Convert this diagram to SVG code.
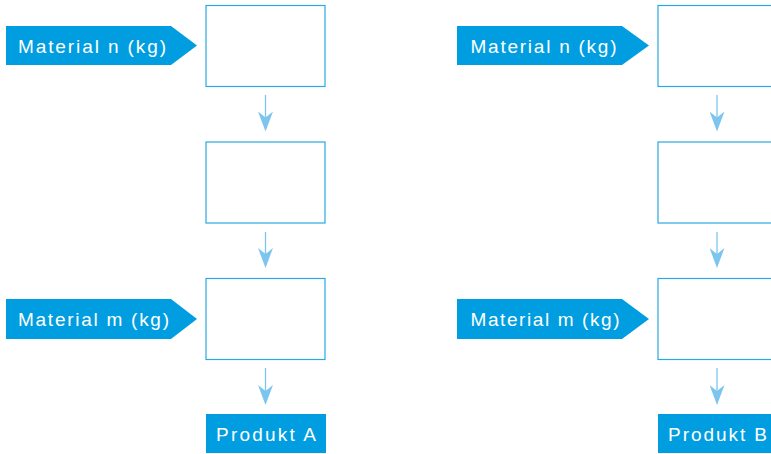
<svg xmlns="http://www.w3.org/2000/svg" width="771" height="454" viewBox="0 0 771 454">
<style>
.tag{fill:#009ee0}
.box{fill:#fff;stroke:#29a9e1;stroke-width:1.2}
.lbl{fill:#fff;font-family:"Liberation Sans",Arial,sans-serif;font-size:19px}
.conn{stroke:#7cc5ef;stroke-width:1.3;fill:none;marker-end:url(#ah)}
</style>
<defs>
<marker id="ah" viewBox="0 -7.5 20 15" markerWidth="20" markerHeight="15" markerUnits="userSpaceOnUse" refX="14" refY="0" orient="auto">
<path d="M0,-7.5 L6,0 L0,7.5 L20,0 Z" fill="#7cc5ef"/>
</marker>
</defs>
<rect width="771" height="454" fill="#fff"/>
<g id="connectors">
<line class="conn" x1="265.5" y1="95" x2="265.5" y2="125.5"/>
<line class="conn" x1="265.5" y1="232" x2="265.5" y2="262"/>
<line class="conn" x1="265.5" y1="368" x2="265.5" y2="399"/>
<line class="conn" x1="717" y1="95" x2="717" y2="125.5"/>
<line class="conn" x1="717" y1="232" x2="717" y2="262"/>
<line class="conn" x1="717" y1="368" x2="717" y2="399"/>
</g>
<g id="matA_n"><path class="tag" d="M6,26 H171 L197,45.5 L171,65 H6 Z"/><text class="lbl" x="18" y="53" textLength="148" lengthAdjust="spacing">Material n (kg)</text></g>
<g id="boxA1"><rect class="box" x="206" y="5.5" width="119" height="81"/></g>
<g id="boxA2"><rect class="box" x="206" y="142" width="119" height="81"/></g>
<g id="matA_m"><path class="tag" d="M6,299 H171 L197,319 L171,339 H6 Z"/><text class="lbl" x="18" y="326" textLength="151" lengthAdjust="spacing">Material m (kg)</text></g>
<g id="boxA3"><rect class="box" x="206" y="278.5" width="119" height="81"/></g>
<g id="prodA"><rect class="tag" x="206" y="414" width="120" height="39"/><text class="lbl" x="216" y="441" textLength="100" lengthAdjust="spacing">Produkt A</text></g>
<g id="matB_n"><path class="tag" d="M457,26 H622 L649,45.5 L622,65 H457 Z"/><text class="lbl" x="470.5" y="53" textLength="146" lengthAdjust="spacing">Material n (kg)</text></g>
<g id="boxB1"><rect class="box" x="658" y="5.5" width="119" height="81"/></g>
<g id="boxB2"><rect class="box" x="658" y="142" width="119" height="81"/></g>
<g id="matB_m"><path class="tag" d="M457,299 H622 L649,319 L622,339 H457 Z"/><text class="lbl" x="470.5" y="326" textLength="149" lengthAdjust="spacing">Material m (kg)</text></g>
<g id="boxB3"><rect class="box" x="658" y="278.5" width="119" height="81"/></g>
<g id="prodB"><rect class="tag" x="658" y="414" width="120" height="39"/><text class="lbl" x="668" y="441" textLength="99" lengthAdjust="spacing">Produkt B</text></g>
</svg>
